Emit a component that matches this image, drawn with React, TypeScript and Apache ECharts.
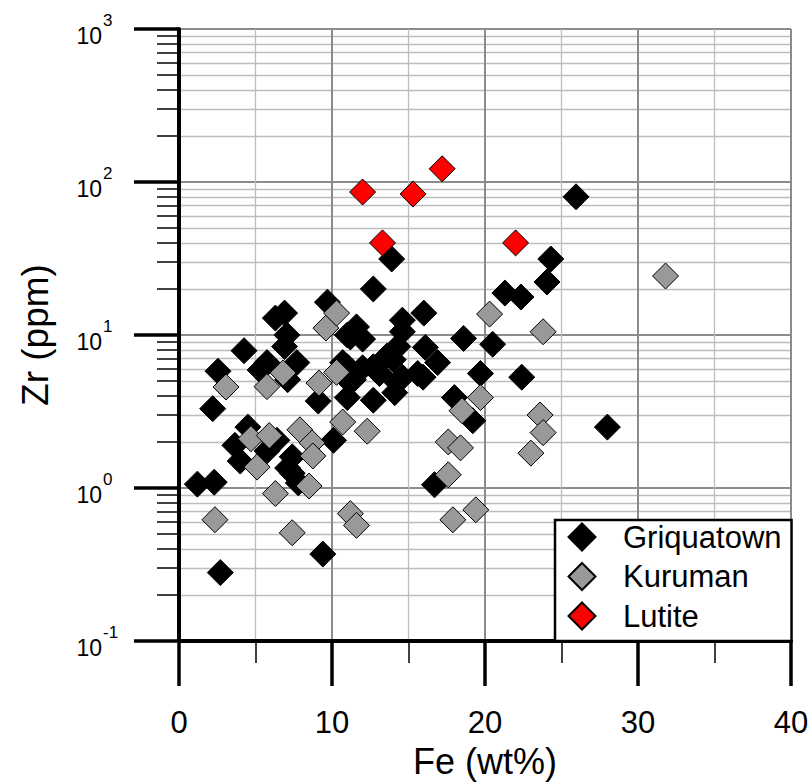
import React, { useEffect, useRef } from "react";
import * as echarts from "echarts";

const FONT = "'Liberation Sans', Arial, Helvetica, sans-serif";

const seriesNames = ["Griquatown", "Kuruman", "Lutite"];

// [Fe (wt%), Zr (ppm)]
const griquatown: [number, number][] = [
  [1.2, 1.06], [2.3, 1.09], [2.7, 0.28], [2.2, 3.3], [2.55, 5.8], [4.25, 7.9],
  [3.65, 1.9], [4.0, 1.5], [4.5, 2.5], [5.75, 1.75], [6.4, 2.05], [7.1, 1.35],
  [7.4, 1.6], [7.4, 1.25], [7.8, 1.08], [5.3, 5.9], [5.75, 6.6], [7.7, 6.6],
  [7.1, 5.1], [6.3, 12.9], [6.9, 13.9], [7.05, 10.0], [6.9, 8.4], [9.1, 3.7],
  [9.7, 16.4], [10.1, 2.05], [9.4, 0.37], [10.7, 6.6], [11.2, 4.9], [11.0, 3.9],
  [12.7, 3.75], [11.4, 5.1], [11.0, 6.2], [12.0, 6.1], [12.7, 6.2], [11.0, 10.0],
  [11.6, 11.3], [11.2, 9.7], [12.0, 9.4], [12.7, 20.0], [13.9, 31.4], [16.0, 13.9],
  [14.6, 12.5], [14.6, 10.5], [14.3, 8.4], [14.0, 6.9], [13.6, 7.3], [13.1, 5.6],
  [14.25, 4.9], [14.1, 4.2], [14.6, 5.3], [16.1, 8.3], [16.9, 6.6], [15.6, 5.6],
  [15.95, 5.3], [18.6, 9.5], [20.5, 8.7], [19.7, 5.6], [22.4, 5.3], [18.0, 3.9],
  [19.2, 2.75], [16.7, 1.05], [21.3, 18.8], [22.35, 17.7], [24.05, 22.2],
  [24.3, 31.4], [25.95, 80], [28.0, 2.5],
];

const kuruman: [number, number][] = [
  [2.35, 0.62], [3.07, 4.57], [4.7, 2.1], [5.9, 2.2], [5.1, 1.37], [5.75, 4.6],
  [6.8, 5.65], [6.3, 0.92], [7.4, 0.51], [7.9, 2.4], [8.7, 1.97], [8.75, 1.62],
  [8.5, 1.03], [9.15, 4.85], [9.6, 11.1], [10.3, 13.9], [10.3, 5.7], [10.7, 2.7],
  [12.3, 2.35], [11.2, 0.68], [11.6, 0.57], [20.3, 13.7], [23.8, 10.5], [19.7, 3.9],
  [18.5, 3.2], [17.6, 2.0], [18.4, 1.83], [17.6, 1.22], [17.9, 0.62], [19.4, 0.72],
  [23.6, 3.0], [23.8, 2.3], [23.0, 1.69], [31.8, 24.3],
];

const lutite: [number, number][] = [
  [12.0, 86], [13.3, 40], [15.3, 83.5], [17.2, 122], [22.0, 40],
];

const xTicks = { min: 0, max: 40, interval: 10 };
const yRange = { min: 0.1, max: 1000 };

export default function App() {
  const ref = useRef<HTMLDivElement>(null);

  useEffect(() => {
    if (!ref.current) return;
    const chart = echarts.init(ref.current, null, { renderer: "svg" });
    const markerBorder = { borderColor: "#000", borderWidth: 1, opacity: 1 };
    const option: any = {
      animation: false,
      backgroundColor: "#fff",
      grid: {
        left: 179,
        top: 29,
        width: 612,
        height: 612,
        containLabel: false,
        outerBoundsMode: "none",
      },
      legend: {
        orient: "vertical",
        left: 555,
        top: 520,
        padding: [1.5, 10, 9.5, 12.5],
        itemGap: 8.5,
        itemWidth: 27,
        itemHeight: 27,
        icon: "diamond",
        borderColor: "#000",
        borderWidth: 2.5,
        backgroundColor: "#fff",
        textStyle: {
          fontSize: 31,
          fontFamily: FONT,
          color: "#000",
          padding: [0, 0, 0, 22.5],
        },
        data: seriesNames,
      },
      xAxis: {
        type: "value",
        min: xTicks.min,
        max: xTicks.max,
        interval: xTicks.interval,
        name: "Fe (wt%)",
        nameLocation: "middle",
        nameGap: 99,
        nameTextStyle: { fontSize: 36, lineHeight: 38, fontFamily: FONT, color: "#000" },
        axisLine: { show: true, onZero: false, lineStyle: { color: "#000", width: 4 } },
        axisTick: { show: true, length: 45, lineStyle: { color: "#000", width: 3.5 } },
        minorTick: { show: true, splitNumber: 2, length: 22, lineStyle: { color: "#000", width: 1.5 } },
        axisLabel: { margin: 66, fontSize: 31, color: "#000", fontFamily: FONT },
        splitLine: { show: true, showMinLine: false, lineStyle: { color: "#8c8c8c", width: 2 } },
        minorSplitLine: { show: true, lineStyle: { color: "#bdbdbd", width: 1.3 } },
      },
      yAxis: [
        {
          type: "log",
          logBase: 10,
          min: yRange.min,
          max: yRange.max,
          position: "left",
          name: "Zr (ppm)",
          nameLocation: "middle",
          nameGap: 125,
          nameTextStyle: { fontSize: 37, fontFamily: FONT, color: "#000" },
          axisLine: { show: true, onZero: false, lineStyle: { color: "#000", width: 4 } },
          axisTick: { show: true, length: 45, lineStyle: { color: "#000", width: 3.5 } },
          minorTick: { show: true, splitNumber: 9, length: 22, lineStyle: { color: "#000", width: 1.5 } },
          axisLabel: {
            margin: 77,
            color: "#000",
            fontFamily: FONT,
            fontSize: 23,
            lineHeight: 13,
            align: "right",
            verticalAlign: "top",
            formatter: () => "10",
          },
          splitLine: { show: true, showMinLine: false, lineStyle: { color: "#8c8c8c", width: 2 } },
          minorSplitLine: { show: true, lineStyle: { color: "#bdbdbd", width: 1.3 } },
        },
        {
          type: "log",
          logBase: 10,
          min: yRange.min,
          max: yRange.max,
          position: "left",
          offset: 0,
          axisLine: { show: false },
          axisTick: { show: false },
          minorTick: { show: false },
          splitLine: { show: false },
          minorSplitLine: { show: false },
          axisLabel: {
            margin: 76,
            color: "#000",
            fontFamily: FONT,
            fontSize: 17,
            lineHeight: 17,
            align: "left",
            verticalAlign: "bottom",
            formatter: (v: number) => String(Math.round(Math.log10(v))),
          },
        },
      ],
      series: [
        {
          name: seriesNames[0],
          type: "scatter",
          symbol: "diamond",
          symbolSize: 26,
          itemStyle: { color: "#000", ...markerBorder },
          data: griquatown,
        },
        {
          name: seriesNames[1],
          type: "scatter",
          symbol: "diamond",
          symbolSize: 26,
          itemStyle: { color: "#999999", ...markerBorder },
          data: kuruman,
        },
        {
          name: seriesNames[2],
          type: "scatter",
          symbol: "diamond",
          symbolSize: 26,
          itemStyle: { color: "#ff0000", ...markerBorder },
          data: lutite,
        },
      ],
    };
    chart.setOption(option);
    return () => chart.dispose();
  }, []);

  return (
    <div
      ref={ref}
      style={{ position: "absolute", left: 0, top: 0, width: 810, height: 782 }}
    />
  );
}
